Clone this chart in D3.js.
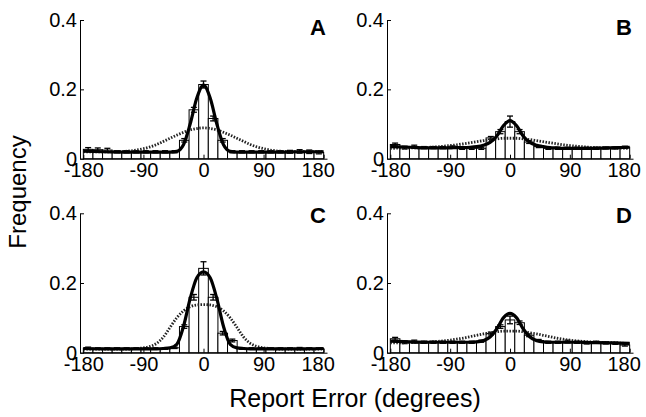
<!DOCTYPE html>
<html>
<head>
<meta charset="utf-8">
<script src="https://cdn.jsdelivr.net/npm/d3@7"></script>
<style>
  body { margin: 0; background: #fff; }
  svg { font-family: "Liberation Sans", Arial, sans-serif; }
</style>
</head>
<body>
<div id="chart"></div>
<script>
var width = 646, height = 417;

// bin centres (25 bins of 14.4 deg)
var binCenters = [-172.8, -158.4, -144, -129.6, -115.2, -100.8, -86.4, -72, -57.6, -43.2, -28.8, -14.4, 0,
                  14.4, 28.8, 43.2, 57.6, 72, 86.4, 100.8, 115.2, 129.6, 144, 158.4, 172.8];
var xTicks = [-180, -90, 0, 90, 180];
var yTicks = [0, 0.2, 0.4];

// observed frequencies
var barsA = [0.027,0.026,0.025,0.02,0.02,0.02,0.02,0.02,0.02,0.02,0.053,0.141,0.214,0.116,0.053,0.02,0.02,0.02,0.02,0.02,0.02,0.02,0.021,0.02,0.018];
var barsB = [0.041,0.032,0.035,0.032,0.032,0.032,0.034,0.03,0.03,0.03,0.06,0.078,0.107,0.078,0.048,0.035,0.03,0.03,0.03,0.03,0.03,0.03,0.031,0.031,0.033];
var barsC = [0.013,0.012,0.012,0.012,0.012,0.012,0.012,0.012,0.012,0.014,0.075,0.159,0.242,0.159,0.056,0.035,0.012,0.012,0.012,0.012,0.012,0.012,0.012,0.012,0.012];
var barsD = [0.04,0.03,0.032,0.03,0.03,0.03,0.03,0.03,0.03,0.033,0.055,0.075,0.094,0.086,0.05,0.035,0.03,0.03,0.032,0.03,0.028,0.03,0.028,0.027,0.022];

// standard errors
var errA = [0.005,0.005,0.005,0.003,0.003,0.003,0.003,0.003,0.003,0.003,0.005,0.007,0.01,0.007,0.005,0.003,0.003,0.003,0.003,0.003,0.003,0.004,0.005,0.005,0.004];
var errB = [0.004,0.004,0.004,0.003,0.003,0.003,0.003,0.003,0.003,0.003,0.004,0.006,0.016,0.006,0.004,0.003,0.003,0.003,0.003,0.003,0.003,0.003,0.003,0.003,0.003];
var errC = [0.003,0.002,0.002,0.002,0.002,0.002,0.002,0.002,0.002,0.002,0.005,0.008,0.019,0.008,0.005,0.004,0.002,0.002,0.002,0.002,0.002,0.002,0.003,0.002,0.002];
var errD = [0.004,0.004,0.004,0.003,0.003,0.003,0.003,0.003,0.003,0.003,0.004,0.005,0.011,0.005,0.004,0.003,0.003,0.003,0.004,0.003,0.003,0.003,0.003,0.003,0.003];

var curveX  = [-180,-150,-120,-100,-90,-80,-70,-60,-50,-40,-30,-20,-10,0,10,20,30,40,50,60,70,80,90,100,120,150,180];
var solidA  = [0.022,0.02,0.019,0.019,0.019,0.019,0.019,0.019,0.019,0.021,0.04,0.1,0.175,0.212,0.175,0.1,0.04,0.021,0.019,0.019,0.019,0.019,0.019,0.019,0.019,0.02,0.02];
var dottedA = [0.02,0.02,0.021,0.025,0.029,0.034,0.041,0.05,0.059,0.068,0.076,0.083,0.087,0.089,0.087,0.083,0.076,0.068,0.059,0.05,0.041,0.034,0.029,0.025,0.021,0.02,0.02];
var solidB  = [0.035,0.033,0.031,0.031,0.031,0.032,0.032,0.033,0.035,0.039,0.047,0.065,0.095,0.11,0.095,0.065,0.047,0.039,0.035,0.032,0.031,0.03,0.03,0.03,0.03,0.031,0.033];
var dottedB = [0.03,0.031,0.033,0.036,0.038,0.04,0.043,0.046,0.049,0.052,0.055,0.057,0.059,0.059,0.059,0.057,0.055,0.052,0.049,0.046,0.043,0.04,0.038,0.036,0.033,0.031,0.03];
var solidC  = [0.012,0.011,0.011,0.011,0.011,0.011,0.011,0.012,0.014,0.024,0.075,0.155,0.215,0.232,0.215,0.155,0.075,0.024,0.014,0.012,0.011,0.011,0.011,0.011,0.011,0.011,0.012];
var dottedC = [0.01,0.01,0.01,0.012,0.014,0.018,0.027,0.045,0.073,0.1,0.12,0.132,0.137,0.138,0.137,0.132,0.12,0.1,0.073,0.045,0.027,0.018,0.014,0.012,0.01,0.01,0.01];
var solidD  = [0.033,0.031,0.03,0.03,0.03,0.03,0.03,0.03,0.031,0.035,0.045,0.068,0.1,0.113,0.1,0.068,0.045,0.035,0.031,0.03,0.03,0.03,0.03,0.03,0.029,0.028,0.027];
var dottedD = [0.028,0.029,0.031,0.034,0.036,0.039,0.042,0.046,0.05,0.054,0.057,0.06,0.062,0.062,0.062,0.06,0.057,0.054,0.05,0.046,0.042,0.039,0.036,0.034,0.031,0.029,0.026];

var panelNames = ["A", "B", "C", "D"];

var panels = [
  {name: panelNames[0], bars: barsA, err: errA, solid: solidA, dotted: dottedA, left: 80,  right: 327, top: 20,    bottom: 158.7, labelY: 35},
  {name: panelNames[1], bars: barsB, err: errB, solid: solidB, dotted: dottedB, left: 387, right: 633, top: 20,    bottom: 158.7, labelY: 35},
  {name: panelNames[2], bars: barsC, err: errC, solid: solidC, dotted: dottedC, left: 80,  right: 327, top: 213.3, bottom: 352.7, labelY: 223},
  {name: panelNames[3], bars: barsD, err: errD, solid: solidD, dotted: dottedD, left: 387, right: 633, top: 213.3, bottom: 352.7, labelY: 223}
];

var svg = d3.select("#chart")
  .append("svg")
  .attr("width", width)
  .attr("height", height);

panels.forEach(function(p) {
  var x = d3.scaleLinear().domain([-185, 185]).range([p.left, p.right]);
  var y = d3.scaleLinear().domain([0, 0.4]).range([p.bottom, p.top]);
  var g = svg.append("g").attr("class", "panel");

  // bars
  g.selectAll(".bar")
    .data(p.bars)
    .enter().append("rect")
    .attr("class", "bar")
    .attr("x", function(d, i) { return x(binCenters[i] - 7.2); })
    .attr("width", function(d, i) { return x(binCenters[i] + 7.2) - x(binCenters[i] - 7.2); })
    .attr("y", function(d) { return y(d); })
    .attr("height", function(d) { return y(0) - y(d); })
    .style("fill", "#fff")
    .style("stroke", "#000")
    .style("stroke-width", 1);

  // error bars
  var eb = g.selectAll(".err")
    .data(p.bars)
    .enter().append("g")
    .attr("class", "err");
  eb.append("line")
    .attr("x1", function(d, i) { return x(binCenters[i]); })
    .attr("x2", function(d, i) { return x(binCenters[i]); })
    .attr("y1", function(d, i) { return y(d - p.err[i]); })
    .attr("y2", function(d, i) { return y(d + p.err[i]); })
    .style("stroke", "#000").style("stroke-width", 1.3);
  eb.append("line")
    .attr("x1", function(d, i) { return x(binCenters[i]) - 3; })
    .attr("x2", function(d, i) { return x(binCenters[i]) + 3; })
    .attr("y1", function(d, i) { return y(d + p.err[i]); })
    .attr("y2", function(d, i) { return y(d + p.err[i]); })
    .style("stroke", "#000").style("stroke-width", 1.3);
  eb.append("line")
    .attr("x1", function(d, i) { return x(binCenters[i]) - 3; })
    .attr("x2", function(d, i) { return x(binCenters[i]) + 3; })
    .attr("y1", function(d, i) { return y(d - p.err[i]); })
    .attr("y2", function(d, i) { return y(d - p.err[i]); })
    .style("stroke", "#000").style("stroke-width", 1.3);

  var line = d3.line()
    .x(function(d, i) { return x(curveX[i]); })
    .y(function(d) { return y(d); })
    .curve(d3.curveMonotoneX);

  g.append("path")
    .attr("d", line(p.dotted))
    .style("fill", "none")
    .style("stroke", "#222")
    .style("stroke-width", 2.8)
    .style("stroke-dasharray", "1.5,1.5");

  g.append("path")
    .attr("d", line(p.solid))
    .style("fill", "none")
    .style("stroke", "#000")
    .style("stroke-width", 3.2);

  // axes
  var yAxis = g.append("g")
    .attr("transform", "translate(" + p.left + ",0)")
    .call(d3.axisLeft(y).tickValues(yTicks).tickSize(-4).tickSizeOuter(0)
      .tickFormat(function(d) { return d === 0 ? "0" : d3.format(".1f")(d); }));
  var xAxis = g.append("g")
    .attr("transform", "translate(0," + p.bottom + ")")
    .call(d3.axisBottom(x).tickValues(xTicks).tickSize(-4).tickSizeOuter(0)
      .tickFormat(function(d) { return String(d); }));

  [yAxis, xAxis].forEach(function(a) {
    a.select(".domain").style("stroke", "#000");
    a.selectAll(".tick line").style("stroke", "#000");
    a.selectAll("text")
      .style("font-size", "20px")
      .style("font-family", "Liberation Sans, Arial, sans-serif")
      .style("fill", "#000");
  });
  yAxis.selectAll("text").attr("x", -3);
  xAxis.selectAll("text").attr("y", 4);
  // last label sits a little inside the axis end
  xAxis.selectAll(".tick text").filter(function(d) { return d === 180; }).attr("dx", -6);

  g.append("text")
    .attr("x", p.right - 1)
    .attr("y", p.labelY)
    .attr("text-anchor", "end")
    .style("font-size", "22px")
    .style("font-weight", "bold")
    .text(p.name);
});

svg.append("text")
  .attr("transform", "translate(26,192) rotate(-90)")
  .attr("text-anchor", "middle")
  .style("font-size", "24px")
  .text("Frequency");

svg.append("text")
  .attr("x", 355)
  .attr("y", 407)
  .attr("text-anchor", "middle")
  .style("font-size", "25px")
  .text("Report Error (degrees)");
</script>
</body>
</html>
